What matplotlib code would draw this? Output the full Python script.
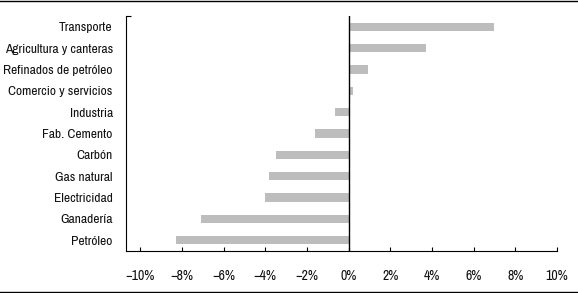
import matplotlib
matplotlib.use("Agg")
import matplotlib.pyplot as plt
from matplotlib.ticker import FuncFormatter, FixedLocator
from matplotlib.lines import Line2D

categories = ["Transporte", "Agricultura y canteras", "Refinados de petróleo",
              "Comercio y servicios", "Industria", "Fab. Cemento", "Carbón",
              "Gas natural", "Electricidad", "Ganadería", "Petróleo"]
values = [7.0, 3.7, 0.93, 0.19, -0.64, -1.6, -3.5, -3.8, -4.0, -7.08, -8.3]
xticks = [-10, -8, -6, -4, -2, 0, 2, 4, 6, 8, 10]

plt.rcParams['font.family'] = ['Archivo Narrow', 'Roboto Condensed', 'DejaVu Sans']

fig = plt.figure(figsize=(5.78, 2.93), dpi=100)
ax = fig.add_axes([126/578, 1 - 251/293, (557 - 126)/578, (251 - 16)/293])

n = len(categories)
ypos = list(range(n - 1, -1, -1))
ax.barh(ypos, values, height=0.39, color="#BDBDBD", edgecolor="none", zorder=2)
ax.axvline(0, color="black", lw=1.0, zorder=3)

ax.set_xlim(-10.68, 10)
ax.set_ylim(-0.5, n - 0.5)
ax.set_yticks(ypos)
ax.set_yticklabels(categories, fontsize=9.7, color="#111111")
ax.yaxis.set_minor_locator(FixedLocator([n - 0.5]))
ax.tick_params(axis='y', which='major', length=0, pad=9.5)
ax.tick_params(axis='y', which='minor', direction='in', length=3.5, width=0.8)

ax.set_xticks(xticks)
ax.xaxis.set_major_formatter(FuncFormatter(lambda v, p: f"{int(round(v))}%".replace("-", "\u2212")))
ax.tick_params(axis='x', direction='in', length=3, width=0.8, pad=13, labelsize=10, labelcolor="#111111")

for s in ["top", "right"]:
    ax.spines[s].set_visible(False)
for s in ["left", "bottom"]:
    ax.spines[s].set_linewidth(0.8)

fig.add_artist(Line2D([0, 1], [1 - 0.8/293, 1 - 0.8/293], transform=fig.transFigure, color="black", lw=1.0))
fig.add_artist(Line2D([0, 1], [1.5/293, 1.5/293], transform=fig.transFigure, color="black", lw=1.0))

fig.savefig("out.png", dpi=100)
